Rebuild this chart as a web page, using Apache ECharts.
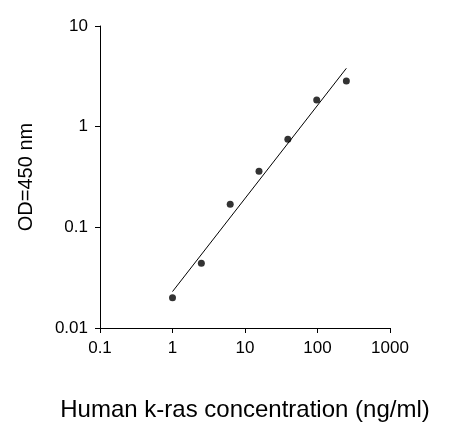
<!DOCTYPE html>
<html>
<head>
<meta charset="utf-8">
<script src="https://cdn.jsdelivr.net/npm/echarts@6/dist/echarts.min.js"></script>
<style>html,body{margin:0;padding:0;background:#fff}#chart{width:471px;height:445px}</style>
</head>
<body>
<div id="chart"></div>
<script>
// concentration (ng/ml) and OD
var conc = [1, 2.5, 6.25, 15.6, 39, 97.5, 250];
var od = [0.02, 0.044, 0.17, 0.36, 0.75, 1.84, 2.84];
// fitted line end points
var fitX = [1, 250];
var fitY = [0.023, 3.8];

var font = 'Liberation Sans, Arial, sans-serif';
function fmt(v) { return String(+v.toPrecision(3)); }

var chart = echarts.init(document.getElementById('chart'));
chart.setOption({
  animation: false,
  grid: {left: 100, right: 81, top: 26, bottom: 117},
  xAxis: {
    type: 'log', min: 0.1, max: 1000, logBase: 10,
    name: 'Human k-ras concentration (ng/ml)', nameLocation: 'middle', nameGap: 70,
    nameTextStyle: {fontFamily: font, fontSize: 24, color: '#000'},
    axisLine: {lineStyle: {color: '#000'}},
    axisTick: {lineStyle: {color: '#000'}, length: 5},
    axisLabel: {fontFamily: font, fontSize: 17, color: '#000', margin: 12, formatter: fmt},
    splitLine: {show: false}
  },
  yAxis: {
    type: 'log', min: 0.01, max: 10, logBase: 10,
    name: 'OD=450 nm', nameLocation: 'middle', nameGap: 64,
    nameTextStyle: {fontFamily: font, fontSize: 20, color: '#000'},
    axisLine: {show: true, lineStyle: {color: '#000'}},
    axisTick: {show: true, lineStyle: {color: '#000'}, length: 5},
    axisLabel: {fontFamily: font, fontSize: 17, color: '#000', margin: 12, formatter: fmt},
    splitLine: {show: false}
  },
  series: [
    {type: 'line', data: fitX.map(function (x, i) { return [x, fitY[i]]; }),
      symbol: 'none', lineStyle: {color: '#000', width: 1}},
    {type: 'scatter', data: conc.map(function (x, i) { return [x, od[i]]; }),
      symbolSize: 7, itemStyle: {color: '#000'}}
  ]
});
</script>
</body>
</html>
